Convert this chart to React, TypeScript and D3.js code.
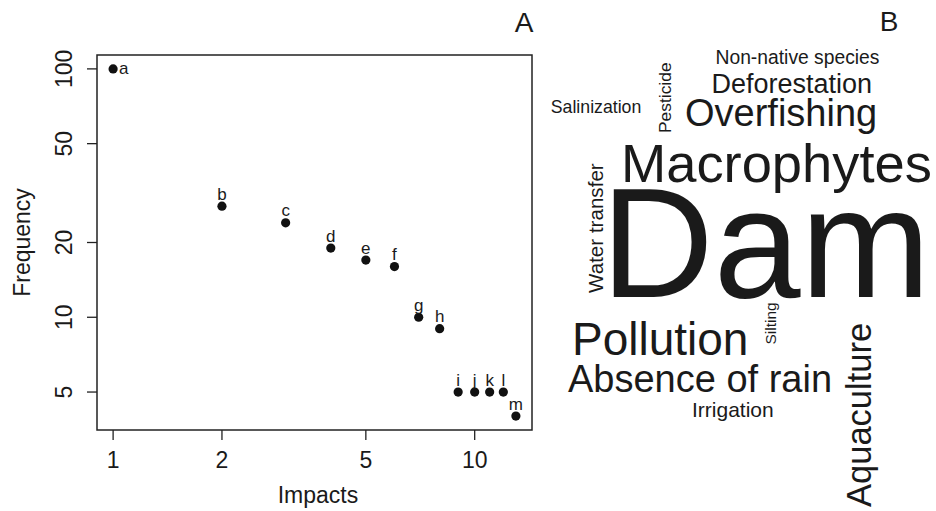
import React from 'react';
import * as d3 from 'd3';

// ---- Panel A data ----
const impacts = [1, 2, 3, 4, 5, 6, 7, 8, 9, 10, 11, 12, 13];
const pointLabels = ['a', 'b', 'c', 'd', 'e', 'f', 'g', 'h', 'i', 'j', 'k', 'l', 'm'];
const frequency = [100, 28, 24, 19, 17, 16, 10, 9, 5, 5, 5, 5, 4];
const xTicks = [1, 2, 5, 10];
const yTicks = [5, 10, 20, 50, 100];

// ---- Panel B data ----
const words = [
  'Dam', 'Macrophytes', 'Pollution', 'Overfishing', 'Absence of rain', 'Aquaculture',
  'Deforestation', 'Water transfer', 'Non-native species', 'Irrigation', 'Salinization',
  'Pesticide', 'Silting',
];
const wordFreq = [100, 28, 24, 19, 17, 16, 10, 9, 5, 5, 5, 5, 4];

// word cloud placement (layout)
const cloudLayout = [
  { x: 601, y: 296.7, rotate: 0, size: 156 },
  { x: 621, y: 182, rotate: 0, size: 54.3 },
  { x: 572, y: 355, rotate: 0, size: 46 },
  { x: 685, y: 126, rotate: 0, size: 38 },
  { x: 568, y: 391.7, rotate: 0, size: 38 },
  { x: 871, y: 507, rotate: -90, size: 34.5 },
  { x: 711.5, y: 92.7, rotate: 0, size: 27 },
  { x: 603, y: 293, rotate: -90, size: 20.6 },
  { x: 715.5, y: 64, rotate: 0, size: 19.3 },
  { x: 692, y: 416.7, rotate: 0, size: 21 },
  { x: 550.8, y: 113, rotate: 0, size: 17.7 },
  { x: 670.8, y: 133, rotate: -90, size: 17.4 },
  { x: 776, y: 344.5, rotate: -90, size: 15.5 },
];

const FONT = '"Liberation Sans", Arial, Helvetica, sans-serif';
const INK = '#1a1a1a';

export default function App() {
  const W = 936;
  const H = 511;
  const box = { left: 97, right: 532, top: 55, bottom: 430 };

  // R-style 4% log-range padding
  const xExt = d3.extent(impacts) as [number, number];
  const yExt = d3.extent(frequency) as [number, number];
  const pad = (e: [number, number]) => {
    const a = Math.log10(e[0]);
    const b = Math.log10(e[1]);
    const p = (b - a) * 0.04;
    return [Math.pow(10, a - p), Math.pow(10, b + p)];
  };
  const x = d3.scaleLog().domain(pad(xExt)).range([box.left, box.right]);
  const y = d3.scaleLog().domain(pad(yExt)).range([box.bottom, box.top]);

  const tickLen = 10;
  const axisFont = 23;

  return (
    <svg
      width={W}
      height={H}
      viewBox={`0 0 ${W} ${H}`}
      style={{ position: 'absolute', left: 0, top: 0, background: '#fff', display: 'block' }}
      fontFamily={FONT}
    >
      <rect x={0} y={0} width={W} height={H} fill="#fff" />
      {/* Panel A */}
      <rect
        x={box.left}
        y={box.top}
        width={box.right - box.left}
        height={box.bottom - box.top}
        fill="none"
        stroke="#222"
        strokeWidth={1.5}
      />
      {xTicks.map((t) => (
        <g key={'xt' + t}>
          <line x1={x(t)} x2={x(t)} y1={box.bottom} y2={box.bottom + tickLen} stroke="#222" strokeWidth={1.3} />
          <text x={x(t)} y={468} textAnchor="middle" fontSize={axisFont} fill={INK}>
            {t}
          </text>
        </g>
      ))}
      {yTicks.map((t) => (
        <g key={'yt' + t}>
          <line x1={box.left - tickLen} x2={box.left} y1={y(t)} y2={y(t)} stroke="#222" strokeWidth={1.3} />
          <text
            transform={`translate(72,${y(t)}) rotate(-90)`}
            textAnchor="middle"
            fontSize={axisFont}
            fill={INK}
          >
            {t}
          </text>
        </g>
      ))}
      <text x={318} y={503} textAnchor="middle" fontSize={axisFont} fill={INK}>
        Impacts
      </text>
      <text
        transform={`translate(30,${(box.top + box.bottom) / 2}) rotate(-90)`}
        textAnchor="middle"
        fontSize={axisFont}
        fill={INK}
      >
        Frequency
      </text>
      {impacts.map((r, i) => (
        <g key={'p' + i}>
          <circle cx={x(r)} cy={y(frequency[i])} r={4.6} fill="#111" />
          {i === 0 ? (
            <text x={x(r) + 6} y={y(frequency[i]) + 5.5} fontSize={17} fill={INK}>
              {pointLabels[i]}
            </text>
          ) : (
            <text x={x(r)} y={y(frequency[i]) - 6.5} textAnchor="middle" fontSize={17} fill={INK}>
              {pointLabels[i]}
            </text>
          )}
        </g>
      ))}
      <text x={524} y={32} textAnchor="middle" fontSize={28} fill={INK}>
        A
      </text>

      {/* Panel B: word cloud */}
      <text x={889} y={31} textAnchor="middle" fontSize={28} fill={INK}>
        B
      </text>
      {words.map((w, i) => {
        const L = cloudLayout[i];
        return (
          <text
            key={'w' + i}
            transform={`translate(${L.x},${L.y}) rotate(${L.rotate})`}
            fontSize={L.size}
            fill={INK}
            data-freq={wordFreq[i]}
          >
            {w}
          </text>
        );
      })}
    </svg>
  );
}
